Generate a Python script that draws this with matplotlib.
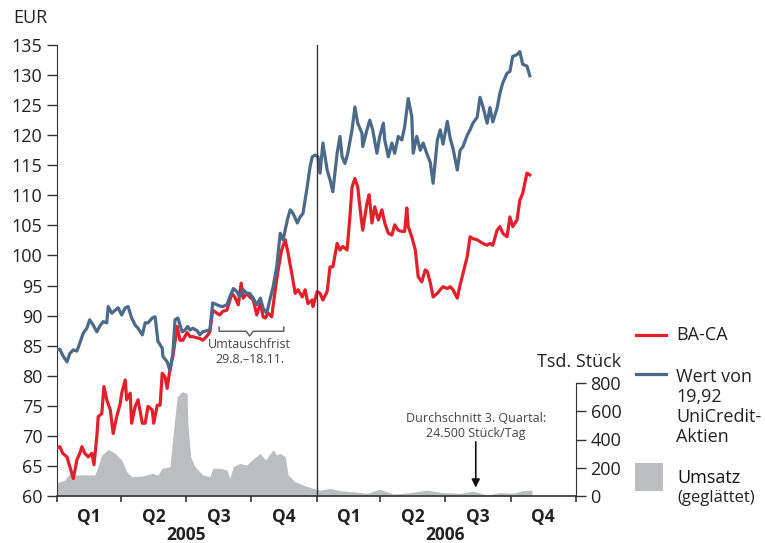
import matplotlib
matplotlib.use("Agg")
import matplotlib.pyplot as plt
from matplotlib.lines import Line2D
from matplotlib.patches import Rectangle
import matplotlib.transforms as mtransforms

plt.rcParams['font.family'] = ['Open Sans', 'DejaVu Sans']

# ---------------- data ----------------
# days since 2005-01-01
blue_days = [0, 4, 8, 14, 18, 23, 28, 32, 37, 42, 46, 51, 56, 60, 65, 70, 72, 77, 82, 86,
             91, 96, 100, 105, 110, 114, 120, 124, 128, 134, 138, 142, 148, 149, 155, 159, 163, 166, 170, 176,
             180, 184, 187, 191, 197, 201, 205, 211, 215, 219, 225, 229, 233, 239, 243, 248, 253, 257, 262, 267,
             271, 276, 281, 286, 290, 295, 300, 304, 309, 314, 318, 324, 328, 332, 338, 342, 346, 352, 356, 359,
             363, 367, 370, 374, 380, 384, 388, 394, 398, 401, 405, 409, 415, 419, 423, 429, 430, 436, 440, 444,
             450, 454, 459, 461, 466, 471, 475, 480, 485, 489, 492, 494, 499, 501, 506, 511, 515, 520, 525, 529,
             535, 539, 543, 549, 553, 557, 563, 567, 571, 577, 581, 585, 591, 595, 599, 605, 609, 613, 619, 623,
             627, 633, 637, 641, 647, 651, 655, 661, 665]
blue_vals = [84.3, 84.4, 83.4, 82.3, 83.7, 84.3, 84.1, 85.4, 87.1, 87.9, 89.3, 88.4, 87.3, 88.2, 89.0, 88.8, 91.5, 90.4, 90.9, 91.3,
             90.1, 91.3, 91.5, 89.6, 88.4, 87.9, 86.8, 88.8, 88.8, 89.6, 89.8, 85.7, 84.6, 83.2, 82.3, 80.8, 83.8, 89.3, 89.6, 87.3,
             87.6, 88.2, 87.6, 87.9, 87.5, 86.8, 87.3, 87.5, 87.6, 92.1, 91.8, 91.6, 91.5, 91.8, 93.1, 94.5, 94.0, 93.1, 94.3, 93.7,
             93.7, 92.9, 91.8, 92.9, 91.2, 90.4, 92.9, 94.8, 98.1, 103.7, 102.6, 105.9, 107.6, 107.0, 105.4, 106.4, 107.0, 111.5, 114.8, 116.4,
             116.7, 116.4, 113.7, 118.7, 114.2, 112.6, 110.6, 117.0, 119.8, 116.4, 115.3, 117.0, 120.9, 124.7, 122.0, 120.3, 118.1, 120.9, 122.5, 120.9,
             117.0, 119.8, 122.0, 119.2, 116.4, 118.7, 117.0, 119.8, 119.2, 121.4, 124.2, 126.1, 123.1, 117.0, 119.8, 117.5, 118.7, 117.0, 115.5, 112.0,
             119.2, 120.9, 118.5, 122.3, 119.5, 117.8, 114.2, 117.5, 118.1, 120.0, 120.9, 122.0, 123.0, 126.3, 124.8, 122.0, 124.6, 122.2, 124.5, 127.0,
             128.7, 130.3, 130.6, 133.1, 133.4, 133.9, 131.8, 131.5, 129.9]

red_days = [0, 4, 8, 14, 18, 23, 28, 32, 35, 39, 44, 49, 52, 56, 58, 63, 66, 70, 75, 79,
            84, 89, 91, 96, 98, 103, 105, 110, 114, 120, 124, 128, 134, 136, 141, 145, 148, 152, 155, 159,
            163, 169, 173, 177, 183, 187, 191, 197, 201, 205, 211, 215, 219, 225, 229, 233, 239, 246, 250, 255,
            259, 262, 267, 271, 276, 281, 286, 290, 293, 297, 302, 307, 311, 316, 321, 325, 331, 335, 339, 345,
            349, 353, 359, 360, 366, 370, 374, 380, 384, 388, 394, 398, 402, 408, 412, 415, 419, 423, 426, 430,
            436, 439, 443, 447, 452, 457, 461, 466, 471, 475, 480, 485, 489, 492, 494, 499, 504, 508, 513, 518,
            521, 525, 529, 535, 539, 543, 549, 553, 557, 563, 567, 571, 577, 581, 585, 591, 595, 599, 605, 609,
            613, 619, 623, 627, 633, 637, 641, 647, 651, 655, 661, 665]
red_vals = [68.0, 68.2, 67.1, 66.5, 64.9, 62.9, 66.0, 67.1, 68.2, 67.1, 66.5, 67.1, 65.2, 69.9, 73.2, 73.7, 78.2, 76.0, 74.3, 70.4,
            73.2, 75.4, 77.1, 79.3, 76.0, 77.1, 72.1, 74.9, 76.0, 72.1, 72.1, 74.9, 74.3, 72.1, 75.1, 75.1, 80.4, 79.8, 77.9, 81.2,
            83.2, 88.2, 85.9, 85.9, 87.2, 86.5, 86.5, 86.3, 86.2, 85.9, 86.6, 87.3, 90.9, 90.4, 90.1, 90.7, 90.9, 93.7, 93.1, 91.8,
            95.4, 92.9, 93.7, 93.1, 92.6, 90.1, 92.0, 89.8, 89.6, 90.4, 89.8, 94.3, 97.6, 100.9, 102.6, 100.4, 96.5, 93.7, 94.3, 93.1,
            94.3, 92.0, 92.6, 91.5, 94.0, 93.7, 92.6, 94.0, 98.1, 98.1, 102.0, 100.9, 101.5, 100.9, 106.4, 111.4, 112.8, 111.4, 108.1, 104.2,
            108.7, 110.1, 105.4, 108.1, 105.9, 107.6, 105.4, 103.7, 103.4, 105.1, 104.2, 104.0, 104.0, 107.9, 104.8, 103.1, 100.9, 96.5, 95.6, 97.6,
            97.3, 95.5, 93.1, 93.7, 94.3, 94.8, 94.5, 94.8, 94.3, 92.9, 95.1, 97.0, 99.8, 103.1, 102.8, 102.6, 102.3, 102.0, 101.7, 102.0,
            101.7, 104.2, 104.8, 103.7, 103.1, 106.4, 104.8, 105.9, 109.2, 110.3, 113.7, 113.4]

# smoothed turnover, thousand shares per day
vol_days = [0, 11, 18, 25, 35, 44, 53, 56, 63, 72, 82, 91, 98, 105, 120, 134, 142, 148, 159, 163,
            169, 176, 183, 184, 188, 194, 205, 215, 219, 229, 239, 243, 248, 257, 267, 274, 286, 293, 304, 309,
            314, 321, 325, 335, 346, 360, 370, 384, 398, 417, 436, 454, 473, 497, 520, 543, 567, 585, 605, 623,
            641, 655, 668]
vol_vals = [94, 113, 160, 149, 149, 149, 149, 184, 290, 330, 302, 255, 172, 137, 142, 160, 149, 196, 208, 420,
            703, 738, 727, 515, 278, 208, 149, 137, 196, 196, 184, 125, 208, 231, 219, 255, 302, 255, 326, 290,
            302, 278, 149, 101, 78, 54, 42, 54, 38, 30, 19, 47, 14, 24, 42, 24, 19, 35, 7, 24,
            19, 38, 42]

quarter_bounds = [0, 90, 181, 273, 365, 455, 546, 638, 730]
quarter_labels = ['Q1', 'Q2', 'Q3', 'Q4', 'Q1', 'Q2', 'Q3', 'Q4']
years = ['2005', '2006']
year_centers = [181, 546]
eur_ticks = [60, 65, 70, 75, 80, 85, 90, 95, 100, 105, 110, 115, 120, 125, 130, 135]
vol_ticks = [0, 200, 400, 600, 800]

RED = '#E3202A'
BLUE = '#4B6A8A'
GRAY = '#BCBDBF'
TXT = '#222222'
AX = '#333333'

W, H = 765, 543
fig = plt.figure(figsize=(W / 100, H / 100), dpi=100)
L, R, B, T = 57, 576, 496, 45
ax = fig.add_axes([L / W, 1 - B / H, (R - L) / W, (B - T) / H])
ax2 = ax.twinx()
ax2.set_zorder(ax.get_zorder() - 1)
ax.patch.set_visible(False)

# volume area
ax2.fill_between(vol_days, 0, vol_vals, color=GRAY, lw=0)
ax2.set_ylim(0, 800 * (B - T) / (B - 383))
ax2.set_yticks(vol_ticks)
ax2.set_yticklabels([str(v) for v in vol_ticks])
for s in ['top', 'left', 'bottom']:
    ax2.spines[s].set_visible(False)
ax2.spines['right'].set_bounds(0, 800)
ax2.spines['right'].set_color(AX)
ax2.tick_params(axis='y', direction='out', length=7.5, width=1, color=AX, pad=3,
                labelsize=13, labelcolor=TXT)

# price lines
ax.plot(red_days, red_vals, color=RED, lw=2.3, solid_joinstyle='round', zorder=3)
ax.plot(blue_days, blue_vals, color=BLUE, lw=2.3, solid_joinstyle='round', zorder=4)

ax.set_xlim(0, 730)
ax.set_ylim(60, 135)
ax.set_yticks(eur_ticks)
ax.set_yticklabels([str(v) for v in eur_ticks])
for s in ['top', 'right']:
    ax.spines[s].set_visible(False)
ax.spines['left'].set_color(AX)
ax.spines['bottom'].set_color(AX)
ax.spines['bottom'].set_linewidth(1.2)
ax.tick_params(axis='y', direction='out', length=7.5, width=1, color=AX, pad=3,
               labelsize=13, labelcolor=TXT)
ax.set_xticks(quarter_bounds)
ax.set_xticklabels([])
ax.tick_params(axis='x', direction='out', length=4.5, width=1.2, color=AX)

# year divider
ax.axvline(365, color=AX, lw=1, zorder=5)

# quarter and year labels
trans = mtransforms.blended_transform_factory(ax.transData, fig.transFigure)
for i, q in enumerate(quarter_labels):
    xc = (quarter_bounds[i] + quarter_bounds[i + 1]) / 2
    ax.text(xc, 1 - 517 / H, q, transform=trans, ha='center', va='center',
            fontsize=12.5, fontweight='bold', color=TXT)
for yc, yl in zip(year_centers, years):
    ax.text(yc, 1 - 535 / H, yl, transform=trans, ha='center', va='center',
            fontsize=12.5, fontweight='bold', color=TXT)

# axis titles
fig.text(13 / W, 1 - 18 / H, 'EUR', ha='left', va='center', fontsize=13, color=TXT)
fig.text(621 / W, 1 - 362 / H, 'Tsd. Stück', ha='right', va='center', fontsize=13, color=TXT)

# Umtauschfrist bracket
bx = [228, 228, 266, 271, 276, 319, 319]
by = [88.1, 87.4, 87.4, 86.6, 87.4, 87.4, 88.1]
ax.plot(bx, by, color='#555555', lw=1, zorder=6)
ax.text(271, 83.9, 'Umtauschfrist\n29.8.–18.11.', ha='center', va='center',
        fontsize=9, color='#444444', linespacing=1.2)

# Durchschnitt annotation
ax.text(589, 71.6, 'Durchschnitt 3. Quartal:\n24.500 Stück/Tag', ha='center', va='center',
        fontsize=9, color='#444444', linespacing=1.2)
ax.annotate('', xy=(589, 61.4), xytext=(589, 69.0),
            arrowprops=dict(arrowstyle='-|>', color='#111111', lw=1.2,
                            mutation_scale=12, shrinkA=0, shrinkB=0))

# legend
def fx(px):
    return px / W

def fy(py):
    return 1 - py / H

fig.add_artist(Line2D([fx(636), fx(666)], [fy(335), fy(335)], color=RED, lw=2.3))
fig.text(fx(676), fy(335), 'BA-CA', ha='left', va='center', fontsize=13, color=TXT)
fig.add_artist(Line2D([fx(636), fx(666)], [fy(374), fy(374)], color=BLUE, lw=2.3))
fig.text(fx(676), fy(407), 'Wert von\n19,92\nUniCredit-\nAktien', ha='left', va='center',
         fontsize=13, color=TXT, linespacing=1.12)
fig.add_artist(Rectangle((fx(635), fy(491)), (663 - 635) / W, (491 - 463) / H,
                         transform=fig.transFigure, color=GRAY, lw=0))
fig.text(fx(677), fy(478), 'Umsatz', ha='left', va='center', fontsize=13, color='#111111')
fig.text(fx(677), fy(498), '(geglättet)', ha='left', va='center', fontsize=12, color=TXT)

fig.savefig('out.png', dpi=100)
